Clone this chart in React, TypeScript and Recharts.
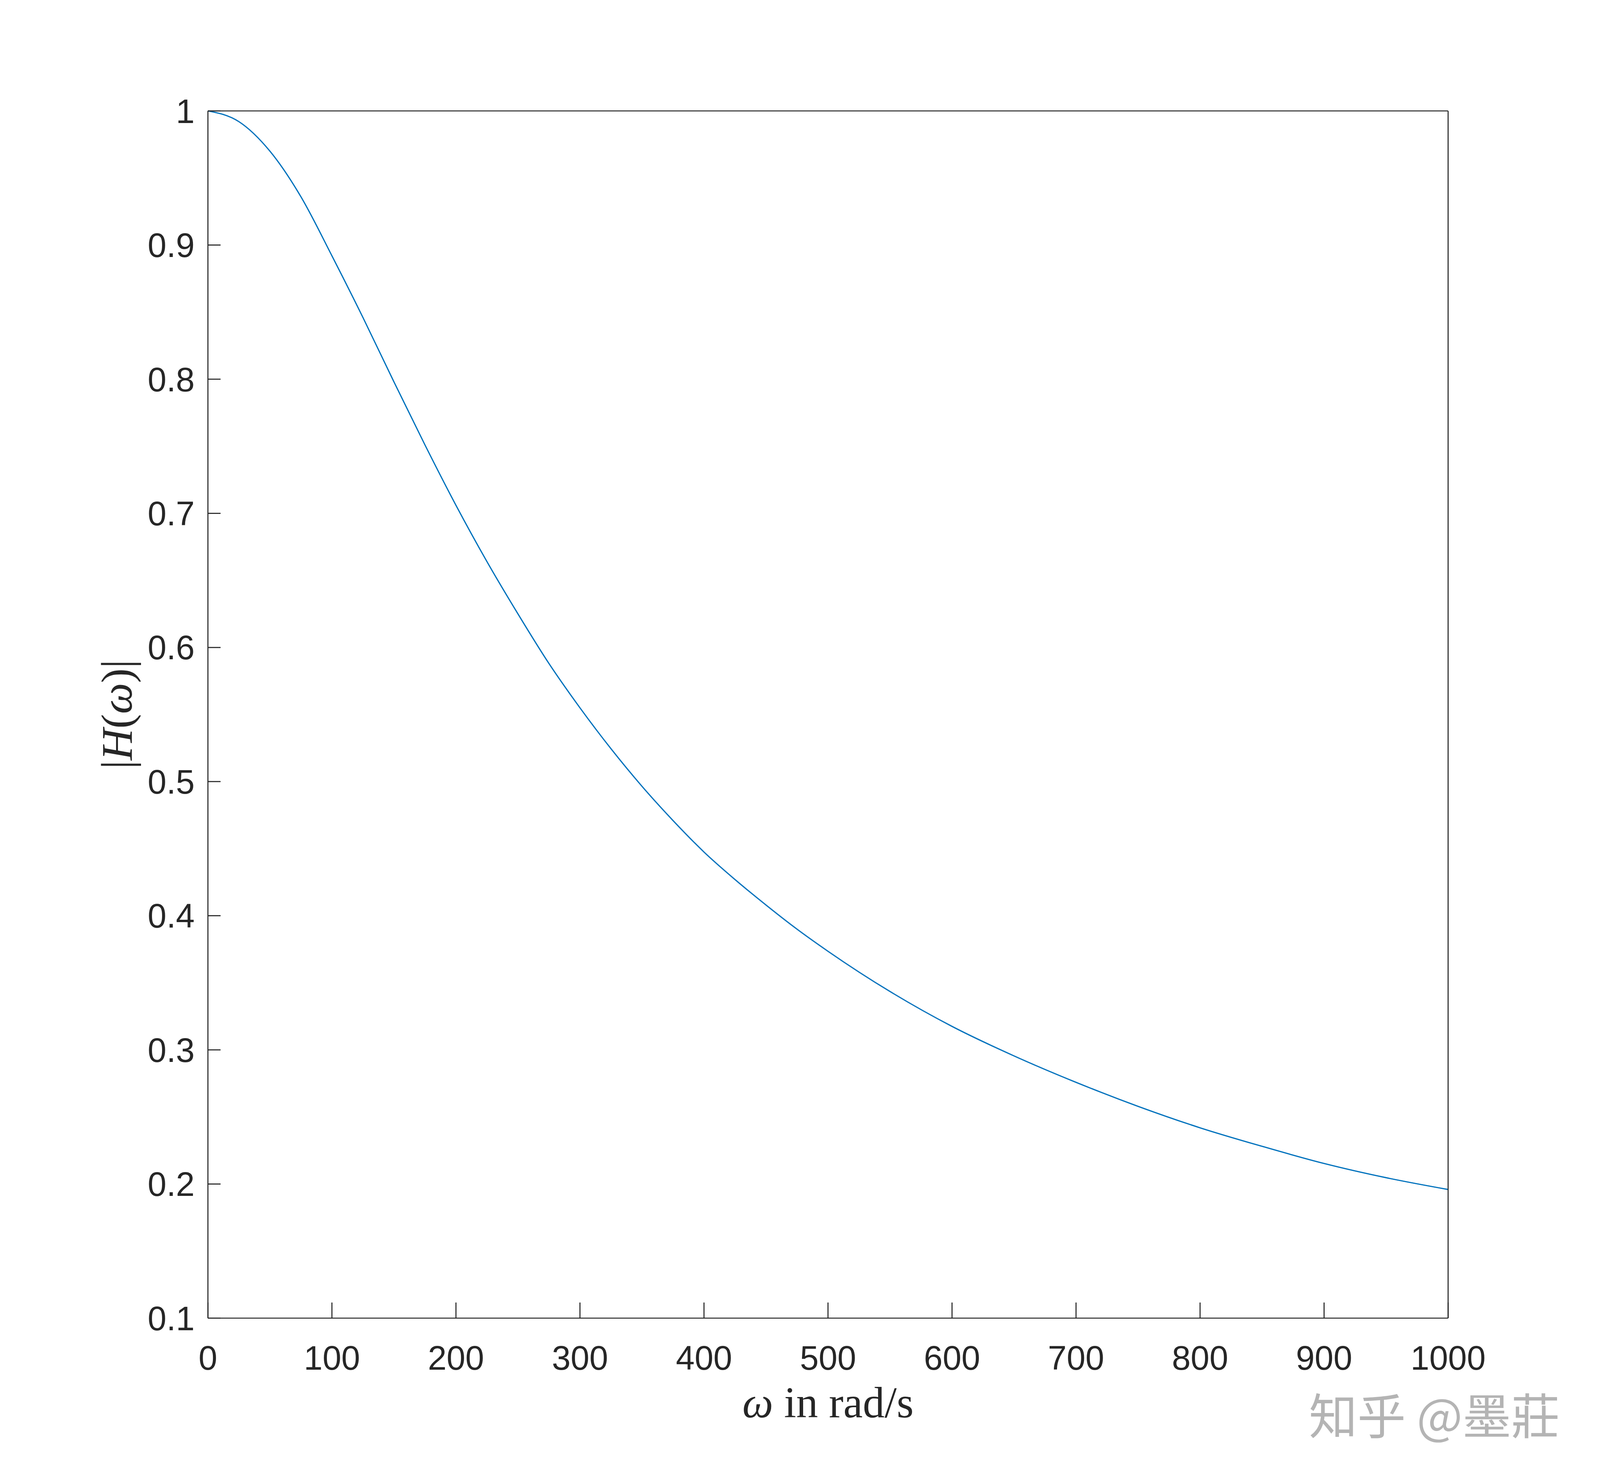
import React from 'react';
import { LineChart, Line, XAxis, YAxis } from 'recharts';

// frequency in rad/s and magnitude |H(w)|
const omega = [
  0, 25, 50, 75, 100, 125, 150, 175, 200, 225, 250, 275, 300, 325, 350, 375,
  400, 425, 450, 475, 500, 550, 600, 650, 700, 750, 800, 850, 900, 950, 1000,
];
const magnitude = [
  1.0, 0.992, 0.97, 0.936, 0.892, 0.846, 0.798, 0.751, 0.706, 0.664, 0.625, 0.588,
  0.555, 0.5245, 0.4965, 0.471, 0.4475, 0.427, 0.408, 0.39, 0.3735, 0.3435, 0.3175,
  0.2955, 0.2758, 0.2579, 0.2419, 0.2281, 0.2153, 0.2047, 0.1959,
];

const xTicks = [0, 100, 200, 300, 400, 500, 600, 700, 800, 900, 1000];
const yTicks = [0.1, 0.2, 0.3, 0.4, 0.5, 0.6, 0.7, 0.8, 0.9, 1];

const xLabel = 'in rad/s';
const watermark = '知乎 @墨莊';

const data = omega.map((w, i) => ({ w, h: magnitude[i] }));

// layout measured on the 5056x3792 reference, mapped onto the actual viewport
const W = 5056;
const H = 3792;
const VW = typeof window !== 'undefined' && window.innerWidth ? window.innerWidth : W;
const VH = typeof window !== 'undefined' && window.innerHeight ? window.innerHeight : H;
const kx = VW / W;
const ky = VH / H;
const kf = Math.sqrt(kx * ky);
const sx = (v: number) => v * kx;
const sy = (v: number) => v * ky;
const sf = (v: number) => v * kf;

const AXIS = '#262626';
const TICK_FS = sf(96);
const tickFont = { fill: AXIS, fontSize: TICK_FS, fontFamily: '"Liberation Sans", Arial, sans-serif' };
const lineStyle = { stroke: AXIS, strokeWidth: sf(3) };
const fmtY = (v: number) => String(Number(v.toFixed(1)));

const XTitle = (props: any) => {
  const { viewBox } = props;
  const cx = viewBox.x + viewBox.width / 2;
  return (
    <g>
      <text
        x={cx}
        y={sy(3629)}
        textAnchor="middle"
        fontSize={sf(124)}
        fontFamily='"Liberation Serif", "Times New Roman", serif'
        fill={AXIS}
      >
        <tspan fontStyle="italic">ω</tspan> {xLabel}
      </text>
      <text
        x={sx(4136)}
        y={sy(3672)}
        fontSize={sf(138)}
        fontFamily='"Noto Sans CJK SC", sans-serif'
        fill="#b4b4b4"
        stroke="#ffffff"
        strokeWidth={sf(4)}
        paintOrder="stroke"
      >
        {watermark}
      </text>
    </g>
  );
};

const YTitle = () => {
  const x = sx(416);
  const y = sy(1829);
  return (
    <text
      x={x}
      y={y}
      transform={`rotate(-90 ${x} ${y})`}
      textAnchor="middle"
      fontSize={sf(125)}
      fontFamily='"Liberation Serif", "Times New Roman", serif'
      fill={AXIS}
    >
      |<tspan fontStyle="italic">H</tspan>(<tspan fontStyle="italic">ω</tspan>)|
    </text>
  );
};

export default function App() {
  const bottomH = sy(417);
  const xTickLen = sy(40);
  // baseline of the x tick labels sits at 3507 on the reference
  const xTickMargin = sy(3507) - 0.71 * TICK_FS - (sy(3375) - xTickLen);
  return (
    <div style={{ width: VW, height: VH, background: '#fff' }}>
      <style>{'body{margin:0;background:#fff;overflow:hidden}'}</style>
      <LineChart width={VW} height={VH} data={data} margin={{ top: 0, right: 0, bottom: 0, left: 0 }}>
        <XAxis
          dataKey="w"
          type="number"
          domain={[0, 1000]}
          ticks={xTicks}
          height={bottomH}
          tickSize={-xTickLen}
          tickMargin={xTickMargin}
          tick={tickFont}
          axisLine={lineStyle}
          tickLine={lineStyle}
          interval={0}
          label={<XTitle />}
        />
        <XAxis
          xAxisId="top"
          orientation="top"
          dataKey="w"
          type="number"
          domain={[0, 1000]}
          ticks={xTicks}
          height={sy(284)}
          tickSize={-xTickLen}
          tick={false}
          axisLine={lineStyle}
          tickLine={lineStyle}
          interval={0}
        />
        <YAxis
          type="number"
          domain={[0.1, 1]}
          ticks={yTicks}
          width={sx(657)}
          tickSize={-sx(40)}
          tickMargin={sx(40) + sx(42)}
          tick={tickFont}
          tickFormatter={fmtY}
          axisLine={lineStyle}
          tickLine={lineStyle}
          interval={0}
          label={<YTitle />}
        />
        <YAxis
          yAxisId="right"
          orientation="right"
          type="number"
          domain={[0.1, 1]}
          ticks={yTicks}
          width={sx(480)}
          tickSize={-sx(40)}
          tick={false}
          axisLine={lineStyle}
          tickLine={lineStyle}
          interval={0}
        />
        <Line
          type="monotone"
          dataKey="h"
          stroke="#0072BD"
          strokeWidth={sf(3.5)}
          dot={false}
          activeDot={false}
          isAnimationActive={false}
        />
      </LineChart>
    </div>
  );
}
